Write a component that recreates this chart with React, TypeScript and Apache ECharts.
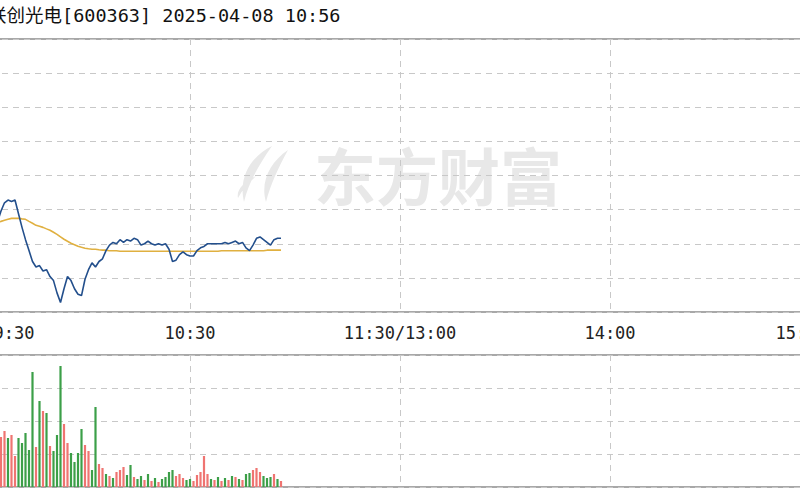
import React, { useEffect, useRef } from "react";
import * as echarts from "echarts";

const titleText = "联创光电[600363] 2025-04-08 10:56";
const watermarkText = "东方财富";
const timeTicks = [0, 60, 120, 180, 240];
const timeTickLabels = ["9:30", "10:30", "11:30/13:00", "14:00", "15:00"];
const priceMin = 29.0;
const priceMax = 31.0;
const priceStep = 0.25;

// minute-by-minute price from 9:30 (minute 0) to 10:56 (minute 86)
const prices = [
  29.62, 29.64, 29.64, 29.66, 29.66, 29.66, 29.74, 29.8, 29.82, 29.81,
  29.82, 29.72, 29.62, 29.53, 29.45, 29.37, 29.33, 29.34, 29.3, 29.31,
  29.26, 29.23, 29.14, 29.07, 29.17, 29.26, 29.23, 29.17, 29.13, 29.12,
  29.24, 29.31, 29.36, 29.33, 29.37, 29.39, 29.45, 29.49, 29.51, 29.5,
  29.53, 29.51, 29.53, 29.52, 29.54, 29.53, 29.49, 29.5, 29.52, 29.5,
  29.49, 29.5, 29.49, 29.5, 29.46, 29.37, 29.38, 29.42, 29.44, 29.42,
  29.41, 29.41, 29.45, 29.47, 29.48, 29.5, 29.5, 29.5, 29.5, 29.5,
  29.51, 29.5, 29.51, 29.52, 29.5, 29.51, 29.47, 29.45, 29.49, 29.54,
  29.55, 29.53, 29.51, 29.49, 29.53, 29.54, 29.54,
];

const avgPrices = [
  29.635, 29.642, 29.65, 29.65, 29.657, 29.657, 29.664, 29.672, 29.679, 29.686,
  29.686, 29.686, 29.682, 29.679, 29.664, 29.65, 29.635, 29.628, 29.62, 29.609,
  29.599, 29.584, 29.569, 29.551, 29.533, 29.518, 29.504, 29.493, 29.482, 29.474,
  29.467, 29.463, 29.46, 29.46, 29.456, 29.453, 29.453, 29.449, 29.449, 29.449,
  29.445, 29.445, 29.445, 29.445, 29.445, 29.445, 29.445, 29.445, 29.445, 29.445,
  29.445, 29.445, 29.445, 29.445, 29.445, 29.445, 29.445, 29.445, 29.445, 29.445,
  29.445, 29.445, 29.445, 29.445, 29.445, 29.445, 29.445, 29.445, 29.445, 29.449,
  29.449, 29.449, 29.449, 29.449, 29.449, 29.449, 29.449, 29.449, 29.449, 29.449,
  29.449, 29.449, 29.453, 29.453, 29.453, 29.453, 29.453,
];

const volumes = [
  28500, 23500, 31000, 21000, 33500, 37000, 25000, 28000, 24500, 26000,
  15500, 24500, 22000, 27000, 18500, 57500, 20000, 43000, 38000, 37000,
  20500, 18000, 26000, 60500, 31500, 22000, 17000, 12500, 17000, 29000,
  21000, 18000, 8500, 40000, 11500, 9500, 6500, 5500, 4500, 7500,
  8500, 10000, 6000, 11000, 5000, 4000, 5500, 3500, 6500, 3000,
  4500, 2500, 4000, 5000, 7500, 8500, 5500, 6500, 4500, 3500,
  4000, 3000, 6000, 7500, 15500, 6500, 4000, 3500, 5000, 3000,
  4500, 3500, 5500, 5000, 4000, 3500, 6500, 7000, 8500, 9500,
  7500, 5500, 4500, 5000, 6500, 4000, 3000,
];

// 1 = up (red), 0 = down (green)
const volumeUp = [
  1, 0, 1, 0, 1, 0, 1, 1, 0, 1,
  1, 0, 0, 0, 0, 0, 1, 0, 1, 0,
  1, 0, 0, 0, 1, 1, 0, 0, 0, 0,
  1, 1, 0, 0, 1, 1, 0, 1, 0, 1,
  1, 1, 0, 0, 1, 0, 0, 1, 0, 1,
  0, 1, 0, 0, 0, 0, 1, 1, 1, 0,
  0, 1, 1, 1, 1, 1, 0, 1, 0, 1,
  0, 1, 0, 1, 0, 1, 0, 0, 1, 1,
  1, 0, 0, 0, 1, 0, 1,
];

const volMax = 66000;
const volStep = 16500;

const logoPath =
  "M36 0 C16 10 2 30 8 56 C12 38 22 20 36 0 Z M52 4 C34 16 24 36 30 56 C34 40 42 22 52 4 Z M20 30 C8 36 0 44 2 52 C6 44 12 38 20 30 Z";

echarts.graphic.registerShape("ewlogo", echarts.graphic.extendPath(logoPath, {}));

export default function App() {
  const ref = useRef<HTMLDivElement>(null);
  useEffect(() => {
    if (!ref.current) return;
    const chart = echarts.init(ref.current, null, { renderer: "svg" });
    const dash = { type: [6, 5], color: "#c8c8c8", width: 1 };
    const labelFormatter = (v: number) => {
      const i = timeTickLabels[timeTicks.indexOf(v)];
      if (v === 0) return "{first|" + i + "}";
      if (v === 240) return "{last|" + i + "}";
      return i ?? "";
    };
    const labelFont = "'DejaVu Sans Mono', monospace";
    chart.setOption({
      animation: false,
      backgroundColor: "#ffffff",
      grid: [
        { left: -20, top: 39, width: 840, height: 273, show: true, borderColor: "#a8a8a8", borderWidth: 2, backgroundColor: "transparent", outerBoundsMode: "none", containLabel: false },
        { left: -20, top: 355, width: 840, height: 132, show: true, borderColor: "#a8a8a8", borderWidth: 2, backgroundColor: "transparent", outerBoundsMode: "none", containLabel: false },
      ],
      xAxis: [
        {
          type: "value", gridIndex: 0, min: 0, max: 240, interval: 60,
          axisLine: { show: false }, axisTick: { show: false },
          splitLine: { show: true, lineStyle: dash },
          axisLabel: {
            show: true, margin: 12, color: "#222", fontSize: 17,
            fontFamily: labelFont,
            showMinLabel: true, showMaxLabel: true, hideOverlap: false,
            formatter: labelFormatter,
            rich: {
              first: { fontSize: 17, color: "#222", fontFamily: labelFont, padding: [0, 0, 0, 68] },
              last: { fontSize: 17, color: "#222", fontFamily: labelFont, padding: [0, 38, 0, 0] },
            },
          },
        },
        {
          type: "value", gridIndex: 1, min: 0, max: 240, interval: 60,
          axisLine: { show: false }, axisTick: { show: false }, axisLabel: { show: false },
          splitLine: { show: true, lineStyle: dash },
        },
      ],
      yAxis: [
        {
          type: "value", gridIndex: 0, min: priceMin, max: priceMax, interval: priceStep,
          axisLine: { show: false }, axisTick: { show: false }, axisLabel: { show: false },
          splitLine: { show: true, lineStyle: dash },
        },
        {
          type: "value", gridIndex: 1, min: 0, max: volMax, interval: volStep,
          axisLine: { show: false }, axisTick: { show: false }, axisLabel: { show: false },
          splitLine: { show: true, lineStyle: dash },
        },
      ],
      graphic: [
        {
          type: "ewlogo", x: 236, y: 146, scaleX: 1, scaleY: 1, z: 0,
          style: { fill: "#e8e8e8" },
        },
        {
          type: "text", x: 438, y: 174, z: 0,
          style: {
            text: watermarkText, fill: "#e8e8e8", fontSize: 62, fontWeight: "bold",
            fontFamily: "'Noto Sans CJK SC'", align: "center", verticalAlign: "middle",
          },
        },
        {
          type: "text", x: -12, y: 15, z: 10,
          style: {
            text: titleText, fill: "#111", fontSize: 18.5,
            fontFamily: "'DejaVu Sans Mono', 'Noto Sans CJK SC', monospace",
            verticalAlign: "middle",
          },
        },
      ],
      series: [
        {
          type: "line", xAxisIndex: 0, yAxisIndex: 0, symbol: "none",
          data: avgPrices.map((v, i) => [i, v]),
          lineStyle: { color: "#e0b040", width: 1.6 }, z: 3,
        },
        {
          type: "line", xAxisIndex: 0, yAxisIndex: 0, symbol: "none",
          data: prices.map((v, i) => [i, v]),
          lineStyle: { color: "#234f8c", width: 1.6 }, z: 4,
        },
        {
          type: "bar", xAxisIndex: 1, yAxisIndex: 1, barWidth: 2.2,
          data: volumes.map((v, i) => ({
            value: [i, v],
            itemStyle: { color: volumeUp[i] ? "#ef7471" : "#3c9f48" },
          })),
        },
      ],
    });
    return () => chart.dispose();
  }, []);
  return <div ref={ref} style={{ width: 800, height: 500, position: "absolute", left: 0, top: 0 }} />;
}
